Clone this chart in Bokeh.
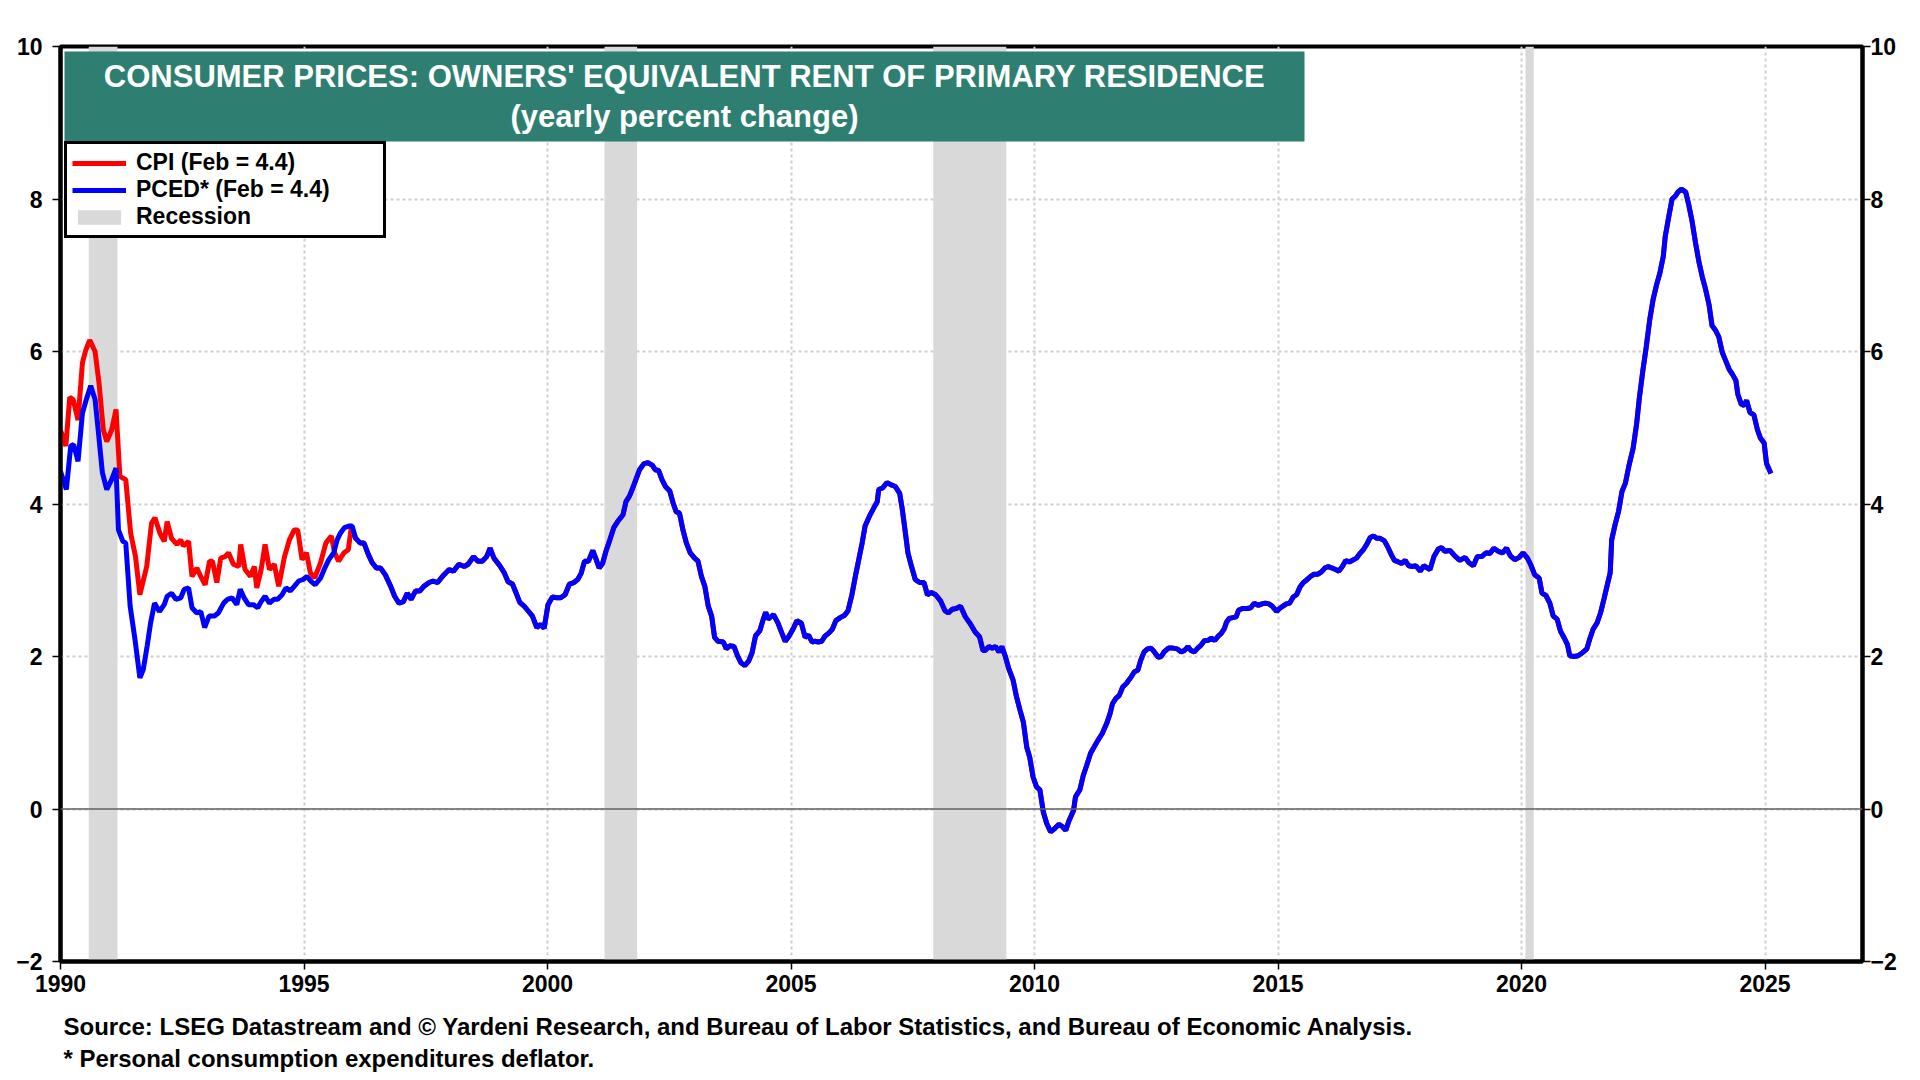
from bokeh.plotting import figure
from bokeh.models import (Range1d, LinearAxis, FixedTicker, Span, BoxAnnotation,
                          Label, Legend, LegendItem, ColumnDataSource, Title)
from bokeh.embed import file_html
from bokeh.resources import INLINE

# ---------------- data ----------------
title_line1 = "CONSUMER PRICES: OWNERS' EQUIVALENT RENT OF PRIMARY RESIDENCE"
title_line2 = "(yearly percent change)"
cpi_label = "CPI (Feb = 4.4)"
pced_label = "PCED* (Feb = 4.4)"
recession_label = "Recession"
source_line1 = ("Source: LSEG Datastream and \u00a9 Yardeni Research, and Bureau of Labor "
                "Statistics, and Bureau of Economic Analysis.")
source_line2 = "* Personal consumption expenditures deflator."

x_ticks = [1990, 1995, 2000, 2005, 2010, 2015, 2020, 2025]
y_ticks = [-2, 0, 2, 4, 6, 8, 10]

recession_start = [1990.58, 2001.17, 2007.92, 2020.08]
recession_end = [1991.17, 2001.84, 2009.42, 2020.25]

pced_years = [
    1990.00, 1990.12, 1990.21, 1990.27, 1990.36, 1990.45, 1990.53, 1990.62, 1990.71, 1990.78,
    1990.86, 1990.95, 1991.05, 1991.14, 1991.19, 1991.28, 1991.34, 1991.43, 1991.53, 1991.63,
    1991.70, 1991.78, 1991.85, 1991.93, 1992.03, 1992.13, 1992.19, 1992.28, 1992.37, 1992.47,
    1992.54, 1992.63, 1992.70, 1992.80, 1992.88, 1992.96, 1993.05, 1993.16, 1993.24, 1993.35,
    1993.43, 1993.52, 1993.62, 1993.69, 1993.77, 1993.86, 1993.96, 1994.05, 1994.12, 1994.20,
    1994.29, 1994.38, 1994.46, 1994.55, 1994.63, 1994.72, 1994.80, 1994.89, 1994.98, 1995.06,
    1995.14, 1995.23, 1995.34, 1995.44, 1995.51, 1995.61, 1995.68, 1995.75, 1995.83, 1995.92,
    1995.99, 1996.06, 1996.15, 1996.23, 1996.32, 1996.40, 1996.49, 1996.57, 1996.67, 1996.78,
    1996.86, 1996.95, 1997.04, 1997.12, 1997.20, 1997.29, 1997.38, 1997.46, 1997.57, 1997.65,
    1997.74, 1997.87, 1997.98, 1998.07, 1998.18, 1998.29, 1998.37, 1998.48, 1998.57, 1998.66,
    1998.75, 1998.82, 1998.90, 1999.02, 1999.11, 1999.19, 1999.28, 1999.35, 1999.43, 1999.52,
    1999.60, 1999.69, 1999.78, 1999.86, 1999.93, 2000.01, 2000.10, 2000.19, 2000.27, 2000.36,
    2000.45, 2000.54, 2000.62, 2000.69, 2000.76, 2000.84, 2000.93, 2001.00, 2001.06, 2001.13,
    2001.20, 2001.28, 2001.36, 2001.44, 2001.55, 2001.61, 2001.68, 2001.75, 2001.82, 2001.89,
    2001.98, 2002.06, 2002.15, 2002.21, 2002.28, 2002.35, 2002.42, 2002.51, 2002.58, 2002.64,
    2002.71, 2002.78, 2002.85, 2002.93, 2003.02, 2003.09, 2003.16, 2003.23, 2003.30, 2003.37,
    2003.43, 2003.50, 2003.61, 2003.67, 2003.74, 2003.83, 2003.90, 2003.97, 2004.05, 2004.13,
    2004.20, 2004.27, 2004.36, 2004.43, 2004.48, 2004.53, 2004.64, 2004.73, 2004.81, 2004.88,
    2004.96, 2005.05, 2005.12, 2005.21, 2005.29, 2005.36, 2005.43, 2005.49, 2005.56, 2005.63,
    2005.70, 2005.78, 2005.85, 2005.92, 2006.01, 2006.10, 2006.17, 2006.25, 2006.32, 2006.39,
    2006.46, 2006.52, 2006.61, 2006.70, 2006.77, 2006.80, 2006.88, 2006.97, 2007.06, 2007.14,
    2007.23, 2007.28, 2007.34, 2007.40, 2007.47, 2007.55, 2007.64, 2007.73, 2007.80, 2007.88,
    2007.97, 2008.07, 2008.16, 2008.23, 2008.31, 2008.39, 2008.48, 2008.58, 2008.68, 2008.78,
    2008.87, 2008.94, 2008.99, 2009.06, 2009.13, 2009.20, 2009.27, 2009.33, 2009.40, 2009.47,
    2009.56, 2009.63, 2009.70, 2009.77, 2009.84, 2009.90, 2009.97, 2010.04, 2010.11, 2010.18,
    2010.25, 2010.33, 2010.41, 2010.50, 2010.57, 2010.64, 2010.71, 2010.80, 2010.84, 2010.93,
    2011.00, 2011.07, 2011.15, 2011.22, 2011.30, 2011.39, 2011.48, 2011.55, 2011.60, 2011.67,
    2011.74, 2011.81, 2011.89, 2011.98, 2012.05, 2012.12, 2012.18, 2012.25, 2012.32, 2012.39,
    2012.46, 2012.54, 2012.60, 2012.66, 2012.75, 2012.84, 2012.93, 2013.01, 2013.08, 2013.15,
    2013.21, 2013.28, 2013.35, 2013.42, 2013.49, 2013.56, 2013.63, 2013.70, 2013.76, 2013.83,
    2013.90, 2013.94, 2014.00, 2014.07, 2014.14, 2014.19, 2014.28, 2014.37, 2014.44, 2014.51,
    2014.59, 2014.67, 2014.74, 2014.81, 2014.88, 2014.97, 2015.03, 2015.10, 2015.17, 2015.24,
    2015.31, 2015.38, 2015.45, 2015.52, 2015.58, 2015.67, 2015.74, 2015.82, 2015.89, 2015.96,
    2016.03, 2016.11, 2016.18, 2016.25, 2016.32, 2016.39, 2016.46, 2016.52, 2016.61, 2016.68,
    2016.75, 2016.82, 2016.89, 2016.96, 2017.03, 2017.09, 2017.18, 2017.25, 2017.33, 2017.39,
    2017.47, 2017.54, 2017.61, 2017.68, 2017.76, 2017.83, 2017.92, 2017.99, 2018.12, 2018.20,
    2018.29, 2018.36, 2018.42, 2018.53, 2018.63, 2018.73, 2018.84, 2018.92, 2019.01, 2019.09,
    2019.18, 2019.27, 2019.35, 2019.43, 2019.52, 2019.61, 2019.69, 2019.77, 2019.86, 2019.95,
    2020.03, 2020.12, 2020.19, 2020.27, 2020.36, 2020.42, 2020.50, 2020.58, 2020.65, 2020.73,
    2020.80, 2020.87, 2020.94, 2020.99, 2021.08, 2021.16, 2021.25, 2021.34, 2021.40, 2021.47,
    2021.55, 2021.62, 2021.69, 2021.76, 2021.82, 2021.85, 2021.92, 2021.99, 2022.06, 2022.13,
    2022.20, 2022.29, 2022.36, 2022.42, 2022.49, 2022.56, 2022.63, 2022.70, 2022.77, 2022.84,
    2022.91, 2022.95, 2023.02, 2023.09, 2023.16, 2023.21, 2023.28, 2023.37, 2023.43, 2023.50,
    2023.57, 2023.64, 2023.71, 2023.78, 2023.85, 2023.91, 2023.98, 2024.05, 2024.12, 2024.19,
    2024.26, 2024.33, 2024.40, 2024.44, 2024.51, 2024.57, 2024.62, 2024.69, 2024.77, 2024.84,
    2024.90, 2024.98, 2025.03, 2025.12,
]
pced_values = [
    4.43, 4.19, 4.76, 4.78, 4.56, 5.19, 5.37, 5.55, 5.37, 4.93,
    4.41, 4.19, 4.32, 4.47, 3.66, 3.51, 3.49, 2.66, 2.22, 1.72,
    1.83, 2.14, 2.44, 2.70, 2.59, 2.68, 2.79, 2.83, 2.75, 2.77,
    2.88, 2.90, 2.64, 2.57, 2.59, 2.38, 2.53, 2.53, 2.57, 2.70,
    2.75, 2.77, 2.68, 2.88, 2.77, 2.68, 2.68, 2.64, 2.72, 2.79,
    2.70, 2.75, 2.75, 2.81, 2.90, 2.86, 2.92, 2.99, 3.01, 3.05,
    2.99, 2.94, 3.03, 3.18, 3.27, 3.36, 3.53, 3.62, 3.69, 3.71,
    3.71, 3.55, 3.49, 3.49, 3.34, 3.23, 3.16, 3.16, 3.07, 2.92,
    2.79, 2.70, 2.72, 2.83, 2.75, 2.86, 2.86, 2.92, 2.97, 2.99,
    2.97, 3.07, 3.14, 3.12, 3.21, 3.18, 3.21, 3.31, 3.25, 3.25,
    3.31, 3.42, 3.29, 3.19, 3.10, 2.98, 2.95, 2.84, 2.71, 2.66,
    2.60, 2.53, 2.38, 2.42, 2.37, 2.68, 2.78, 2.77, 2.77, 2.81,
    2.95, 2.97, 3.01, 3.09, 3.25, 3.25, 3.39, 3.27, 3.16, 3.22,
    3.38, 3.53, 3.69, 3.77, 3.86, 4.03, 4.10, 4.21, 4.33, 4.45,
    4.53, 4.54, 4.51, 4.45, 4.44, 4.32, 4.23, 4.17, 4.01, 3.90,
    3.88, 3.66, 3.49, 3.36, 3.29, 3.25, 3.05, 2.92, 2.66, 2.53,
    2.25, 2.20, 2.19, 2.10, 2.14, 2.13, 2.01, 1.92, 1.88, 1.94,
    2.05, 2.27, 2.34, 2.49, 2.58, 2.49, 2.55, 2.44, 2.31, 2.20,
    2.27, 2.37, 2.47, 2.44, 2.25, 2.28, 2.19, 2.20, 2.19, 2.20,
    2.27, 2.31, 2.36, 2.47, 2.51, 2.54, 2.60, 2.81, 3.05, 3.27,
    3.49, 3.71, 3.84, 3.95, 4.03, 4.19, 4.21, 4.28, 4.25, 4.23,
    4.14, 3.95, 3.66, 3.36, 3.19, 3.01, 2.97, 2.97, 2.81, 2.84,
    2.81, 2.73, 2.60, 2.57, 2.62, 2.63, 2.66, 2.52, 2.43, 2.32,
    2.26, 2.08, 2.08, 2.13, 2.11, 2.13, 2.06, 2.13, 2.00, 1.84,
    1.69, 1.47, 1.30, 1.14, 0.81, 0.68, 0.42, 0.29, 0.25, -0.04,
    -0.19, -0.30, -0.26, -0.20, -0.23, -0.28, -0.15, -0.02, 0.16, 0.25,
    0.44, 0.57, 0.73, 0.81, 0.90, 0.99, 1.12, 1.25, 1.38, 1.45,
    1.49, 1.60, 1.65, 1.73, 1.80, 1.82, 1.95, 2.06, 2.10, 2.11,
    2.06, 1.99, 2.00, 2.06, 2.11, 2.11, 2.10, 2.06, 2.08, 2.13,
    2.08, 2.06, 2.11, 2.15, 2.21, 2.21, 2.24, 2.21, 2.26, 2.30,
    2.37, 2.45, 2.50, 2.51, 2.52, 2.61, 2.63, 2.63, 2.64, 2.70,
    2.67, 2.69, 2.70, 2.69, 2.66, 2.59, 2.63, 2.66, 2.69, 2.70,
    2.78, 2.81, 2.91, 2.97, 3.00, 3.05, 3.08, 3.08, 3.11, 3.16,
    3.18, 3.16, 3.14, 3.12, 3.18, 3.26, 3.24, 3.26, 3.29, 3.35,
    3.40, 3.47, 3.56, 3.58, 3.55, 3.55, 3.52, 3.44, 3.33, 3.26,
    3.24, 3.22, 3.26, 3.19, 3.18, 3.19, 3.12, 3.19, 3.14, 3.31,
    3.41, 3.43, 3.38, 3.39, 3.32, 3.26, 3.30, 3.23, 3.19, 3.31,
    3.31, 3.36, 3.35, 3.42, 3.38, 3.36, 3.42, 3.32, 3.27, 3.30,
    3.36, 3.29, 3.20, 3.07, 3.03, 2.83, 2.80, 2.70, 2.53, 2.49,
    2.33, 2.25, 2.16, 2.01, 2.00, 2.01, 2.05, 2.10, 2.23, 2.36,
    2.44, 2.57, 2.75, 2.94, 3.10, 3.53, 3.73, 3.90, 4.16, 4.27,
    4.49, 4.73, 5.04, 5.40, 5.75, 6.06, 6.41, 6.68, 6.87, 7.03,
    7.25, 7.51, 7.76, 8.00, 8.04, 8.09, 8.13, 8.09, 7.93, 7.71,
    7.43, 7.18, 6.98, 6.81, 6.61, 6.34, 6.28, 6.19, 5.99, 5.88,
    5.77, 5.70, 5.62, 5.44, 5.31, 5.29, 5.36, 5.20, 5.17, 4.98,
    4.87, 4.80, 4.53, 4.40,
]

# CPI differs visibly from PCED only in the early 1990s; afterwards the two overlap
cpi_early_years = [
    1990.00, 1990.11, 1990.19, 1990.26, 1990.36, 1990.45, 1990.52, 1990.60, 1990.71, 1990.79,
    1990.88, 1990.95, 1991.05, 1991.14, 1991.22, 1991.34, 1991.44, 1991.54, 1991.63, 1991.77,
    1991.87, 1991.94, 1992.04, 1992.13, 1992.19, 1992.28, 1992.39, 1992.47, 1992.52, 1992.63,
    1992.70, 1992.80, 1992.88, 1992.97, 1993.06, 1993.12, 1993.21, 1993.29, 1993.38, 1993.45,
    1993.55, 1993.66, 1993.70, 1993.79, 1993.90, 1993.98, 1994.03, 1994.12, 1994.20, 1994.29,
    1994.39, 1994.48, 1994.60, 1994.70, 1994.80, 1994.87, 1994.96, 1995.05, 1995.13, 1995.22,
    1995.34, 1995.45, 1995.56, 1995.63, 1995.71, 1995.82, 1995.91, 1995.97,
]
cpi_early_values = [
    4.97, 4.76, 5.40, 5.37, 5.10, 5.85, 6.02, 6.15, 6.00, 5.59,
    4.97, 4.82, 4.97, 5.24, 4.36, 4.32, 3.62, 3.31, 2.81, 3.18,
    3.75, 3.82, 3.62, 3.51, 3.77, 3.55, 3.47, 3.53, 3.45, 3.51,
    3.05, 3.16, 3.05, 2.94, 3.25, 3.25, 2.97, 3.29, 3.31, 3.36,
    3.21, 3.18, 3.47, 3.14, 3.05, 3.18, 2.90, 3.14, 3.47, 3.14,
    3.21, 2.92, 3.31, 3.53, 3.66, 3.66, 3.27, 3.36, 3.10, 3.03,
    3.23, 3.49, 3.58, 3.36, 3.25, 3.36, 3.40, 3.69,
]
overlap_from = 1996.0

cpi_years = cpi_early_years + [y for y in pced_years if y > overlap_from]
cpi_values = cpi_early_values + [v for y, v in zip(pced_years, pced_values) if y > overlap_from]

# ---------------- figure ----------------
FONT = "Liberation Sans"
W, H = 1904, 1078
FRAME_L, FRAME_R, FRAME_T, FRAME_B = 60, 1862, 46, 961
p = figure(width=W, height=H, output_backend="svg", toolbar_location=None,
           x_range=Range1d(1990, 2027), y_range=Range1d(-2, 10),
           min_border_left=FRAME_L, min_border_right=W - FRAME_R,
           min_border_top=FRAME_T, min_border_bottom=H - FRAME_B)
p.background_fill_color = "white"
p.border_fill_color = "white"
p.outline_line_color = "black"
p.outline_line_width = 4
p.outline_line_alpha = 1.0

right_axis = LinearAxis(y_range_name="default")
p.add_layout(right_axis, "right")

p.xaxis.ticker = FixedTicker(ticks=x_ticks)
p.yaxis.ticker = FixedTicker(ticks=y_ticks)
for ax in [p.xaxis[0], p.yaxis[0], right_axis]:
    ax.axis_line_width = 4
    ax.axis_line_color = "black"
    ax.major_tick_out = 8
    ax.major_tick_in = 0
    ax.major_tick_line_width = 1.5
    ax.major_tick_line_color = "black"
    ax.minor_tick_out = 0
    ax.minor_tick_in = 0
    ax.major_label_text_font = FONT
    ax.major_label_text_font_style = "bold"
    ax.major_label_text_font_size = "23px"
    ax.major_label_text_color = "black"
p.yaxis[0].major_label_standoff = 10
right_axis.major_label_standoff = 0
p.xaxis[0].major_label_standoff = 5

p.xgrid.ticker = FixedTicker(ticks=x_ticks)
p.ygrid.ticker = FixedTicker(ticks=y_ticks)
for g in [p.xgrid[0], p.ygrid[0]]:
    g.grid_line_color = "#cfcfcf"
    g.grid_line_dash = "3 3"
    g.grid_line_width = 2

# recession shading
rec_src = ColumnDataSource(dict(left=recession_start, right=recession_end))
r_rec = p.quad(left="left", right="right", bottom=-2, top=10, source=rec_src,
               fill_color="#d9d9d9", line_color=None)

p.add_layout(Span(location=0, dimension="width", line_color="#606060", line_width=1.5))

r_cpi = p.line(cpi_years, cpi_values, line_color="#ff0000", line_width=5)
r_pced = p.line(pced_years, pced_values, line_color="#0000ff", line_width=5)

# title box (screen units measured from the frame's bottom-left corner)
p.add_layout(BoxAnnotation(left=4, right=1244, top=FRAME_B - 51, bottom=FRAME_B - 141,
                           left_units="screen", right_units="screen",
                           top_units="screen", bottom_units="screen",
                           fill_color="#2e7f72", fill_alpha=1.0,
                           line_color=None, level="overlay"))
p.add_layout(Label(x=624, y=FRAME_B - 76, x_units="screen", y_units="screen", text=title_line1,
                   text_align="center", text_baseline="alphabetic", text_color="white",
                   text_font=FONT, text_font_style="bold", text_font_size="31px",
                   level="overlay"))
p.add_layout(Label(x=624, y=FRAME_B - 116, x_units="screen", y_units="screen", text=title_line2,
                   text_align="center", text_baseline="alphabetic", text_color="white",
                   text_font=FONT, text_font_style="bold", text_font_size="31px",
                   level="overlay"))

# legend
legend = Legend(items=[LegendItem(label=cpi_label, renderers=[r_cpi]),
                       LegendItem(label=pced_label, renderers=[r_pced]),
                       LegendItem(label=recession_label, renderers=[r_rec])],
                location=(4, FRAME_B - 238))
legend.border_line_color = "black"
legend.border_line_width = 3
legend.border_line_alpha = 1.0
legend.background_fill_color = "white"
legend.background_fill_alpha = 1.0
legend.label_text_font = FONT
legend.label_text_font_style = "bold"
legend.label_text_font_size = "23px"
legend.label_text_color = "black"
legend.glyph_width = 54
legend.glyph_height = 18
legend.label_height = 18
legend.label_width = 242
legend.label_standoff = 10
legend.spacing = 0
legend.padding = 5
legend.margin = 0
p.add_layout(legend)

# source notes below the x axis (a thin spacer first, then the two lines)
p.add_layout(Title(text=" ", align="left", standoff=11, text_font_size="2px"), "below")
for txt in [source_line1, source_line2]:
    p.add_layout(Title(text=txt, align="left", offset=3, standoff=3,
                       text_font=FONT, text_font_style="bold", text_font_size="24px",
                       text_color="black"), "below")

open("out.html", "w").write(file_html(p, INLINE))
